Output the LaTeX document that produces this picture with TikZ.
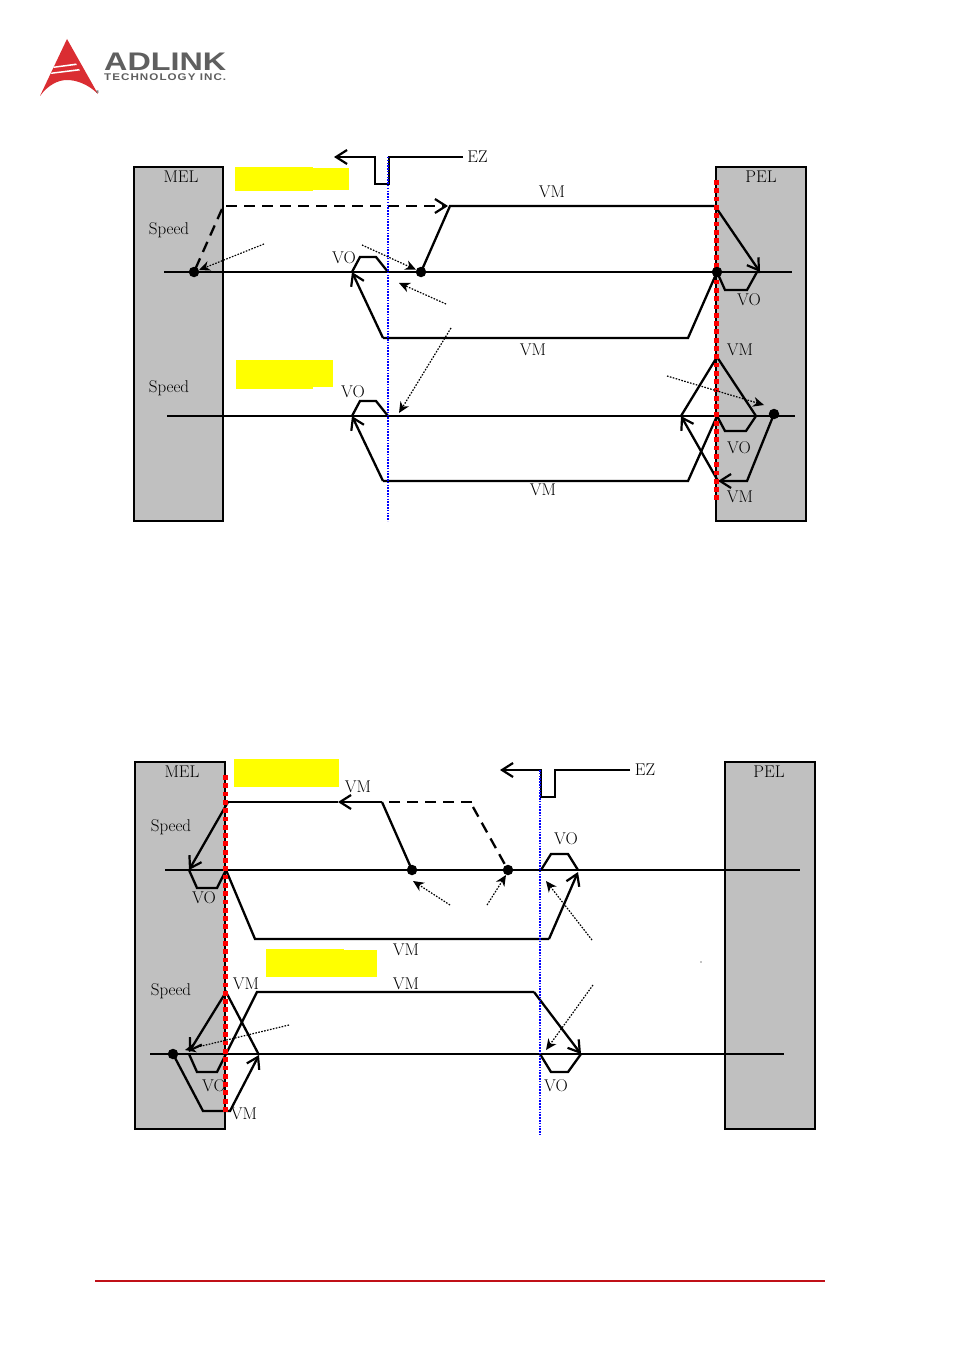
\documentclass[tikz,border=0pt]{standalone}
\usepackage{fontspec}
\newfontfamily\logofont{Liberation Sans}
\usetikzlibrary{arrows.meta}
\definecolor{limitgrey}{RGB}{192,192,192}
\definecolor{logored}{RGB}{218,45,50}
\definecolor{logogrey}{RGB}{95,95,95}
\definecolor{footred}{RGB}{192,16,24}
\definecolor{markyellow}{RGB}{255,255,0}
\definecolor{limitred}{RGB}{255,0,0}
\definecolor{indexblue}{RGB}{0,0,255}
\tikzset{
  x=1pt,y=-1pt,
  limitbox/.style={draw=black,line width=1.5pt,fill=limitgrey},
  marker/.style={fill=markyellow,draw=none},
  axisline/.style={line width=1.05pt},
  trace/.style={line width=2.3pt,line join=miter},
  dashtrace/.style={trace,dash pattern=on 11pt off 7pt},
  openarrow/.style={-{Straight Barb[length=11pt,width=14pt,line width=2.2pt]}},
  note/.style={line width=1.2pt,dash pattern=on 1.6pt off 1.4pt,-{Stealth[length=11pt,width=10pt,inset=3.5pt,line width=0pt]}},
  redline/.style={limitred,line width=5pt,dash pattern=on 4.8pt off 3.5pt},
  blueline/.style={indexblue,line width=1.4pt,dash pattern=on 1.5pt off 1.3pt},
  lab/.style={font=\fontsize{17}{20}\selectfont,inner sep=0pt,text=black},
  stopdot/.style={circle,fill=black,draw=none,minimum size=10.5pt,inner sep=0pt},
}
\begin{document}
\begin{tikzpicture}
\useasboundingbox (0,0) rectangle (954,1351);

% company mark
\fill[logored] (67,39) -- (98,94) .. controls (88,84) and (76,80) .. (67,80)
   .. controls (58,80) and (48,85) .. (40,96) -- cycle;
\fill[white] (54,66.5) -- (76,63.5) -- (76.8,65) -- (53.4,68) -- cycle;
\fill[white] (51.5,72.5) -- (79,69) -- (79.8,70.5) -- (51,74) -- cycle;
\node[inner sep=0pt,anchor=center] (reg) at (97.5,92.5) {\logofont\fontsize{4}{4}\selectfont ®};
\node[inner sep=0pt,anchor=north west,text=logogrey] (brand) at (104,52.5)
  {\resizebox{122pt}{17.5pt}{\logofont\bfseries ADLINK}};
\node[inner sep=0pt,anchor=north west,text=logogrey] (brandsub) at (104,73.5)
  {\resizebox{122pt}{6.8pt}{\logofont\addfontfeatures{LetterSpace=9}\bfseries TECHNOLOGY INC.}};

% ---------- upper chart ----------
\draw[limitbox] (134,167) rectangle (223,521);
\draw[limitbox] (716,167) rectangle (806,521);
\fill[marker] (235,167) rectangle (313,191);
\fill[marker] (235,168) rectangle (349,190.5);
\fill[marker] (236,360) rectangle (313,389);
\fill[marker] (236,360) rectangle (333,387);

\node[lab] (melA) at (181,177) {MEL};
\node[lab] (pelA) at (761,177) {PEL};
\node[lab] (speedA) at (169,230) {Speed};
\node[lab] (speedB) at (169,388) {Speed};
\node[lab] (ezA) at (477.5,157) {EZ};
\node[lab] (vmA) at (552,192) {VM};
\node[lab] (voA) at (344,258) {VO};
\node[lab] (voB) at (749,300) {VO};
\node[lab] (vmB) at (533,350) {VM};
\node[lab] (vmC) at (740,350) {VM};
\node[lab] (voC) at (353,392) {VO};
\node[lab] (voD) at (739,448) {VO};
\node[lab] (vmD) at (543,490) {VM};
\node[lab] (vmE) at (740,497) {VM};

\draw[axisline] (164,272) -- (792,272);
\draw[axisline] (167,416) -- (795,416);

\coordinate (limPoint) at (717,272);
\node[stopdot] (homeA) at (194,272) {};
\node[stopdot] (slowA) at (421,272) {};
\node[stopdot] (endA) at (774,414) {};

% index pulse
\draw[trace,openarrow] (463,157) -- (389,157) -- (389,184) -- (375,184) -- (375,157) -- (334,157);
% first pass
\draw[dashtrace] (222,209) -- (homeA.center);
\draw[dashtrace,openarrow] (226,206) -- (448,206);
\draw[trace] (slowA.center) -- (450,206) -- (715,206);
\draw[trace,openarrow] (715,206) -- (760,272);
\draw[trace] (760,272) -- (757,272) -- (747,290) -- (725,290) -- (limPoint);
\draw[trace] (limPoint) -- (688,338) -- (383,338);
\draw[trace,openarrow] (383,338) -- (352,272);
\draw[trace] (352,272) -- (360,257) -- (376,257) -- (388,272);
% second pass
\draw[trace,openarrow] (endA.center) -- (747,481) -- (718,481);
\draw[trace,openarrow] (718,481) -- (681,416);
\draw[trace] (681,416) -- (717,357) -- (756,416) -- (746,431) -- (725,431) -- (717,416) -- (688,481) -- (383,481);
\draw[trace,openarrow] (383,481) -- (352,416);
\draw[trace] (352,416) -- (360,401) -- (376,401) -- (388,416);

\draw[blueline] (388,157) -- (388,521);
\draw[redline] (716,180) -- (716,503);
\node[stopdot] (limA) at (limPoint) {};

\draw[note] (264,244) -- (homeA);
\draw[note] (362,245) -- (slowA);
\draw[note] (446,304) -- (399,283);
\draw[note] (451,328) -- (399,413);
\draw[note] (667,376) -- (764,405);

% ---------- lower chart ----------
\draw[limitbox] (135,762) rectangle (225,1129);
\draw[limitbox] (725,762) rectangle (815,1129);
\fill[marker] (234,759) rectangle (339,787);
\fill[marker] (266,949) rectangle (344,977);
\fill[marker] (266,950) rectangle (377,977);

\node[lab] (melB) at (182,772) {MEL};
\node[lab] (pelB) at (769,772) {PEL};
\node[lab] (speedC) at (171,827) {Speed};
\node[lab] (speedD) at (171,991) {Speed};
\node[lab] (ezB) at (645,770) {EZ};
\node[lab] (vmF) at (358,787) {VM};
\node[lab] (voE) at (204,898) {VO};
\node[lab] (voF) at (566,839) {VO};
\node[lab] (vmG) at (406,950) {VM};
\node[lab] (vmH) at (246,984) {VM};
\node[lab] (vmI) at (406,984) {VM};
\node[lab] (voG) at (214,1086) {VO};
\node[lab] (vmJ) at (244,1114) {VM};
\node[lab] (voH) at (556,1086) {VO};

\draw[axisline] (165,870) -- (800,870);
\draw[axisline] (150,1054) -- (784,1054);

\node[stopdot] (slowB) at (412,870) {};
\node[stopdot] (homeB) at (508,870) {};
\node[stopdot] (endB) at (173,1054) {};

% index pulse
\draw[trace,openarrow] (630,770) -- (555,770) -- (555,797) -- (541,797) -- (541,770) -- (500,770);
% first pass
\draw[dashtrace] (472,802) -- (385,802);
\draw[dashtrace] (473,807) -- (homeB.center);
\draw[trace] (slowB.center) -- (382,802);
\draw[trace,openarrow] (382,802) -- (338,802);
\draw[trace] (338,802) -- (228,802);
\draw[trace,openarrow] (228,802) -- (189,870);
\draw[trace] (189,870) -- (197,888) -- (217,888) -- (226,870) -- (255,939) -- (549,939);
\draw[trace,openarrow] (549,939) -- (578,872);
\draw[trace] (578,870) -- (568,854) -- (551,854) -- (541,870);
% second pass
\draw[trace,openarrow] (endB.center) -- (203,1111) -- (230,1111) -- (259,1055);
\draw[trace,openarrow] (259,1055) -- (226,992) -- (189,1052);
\draw[trace] (189,1054) -- (197,1072) -- (217,1072) -- (226,1054) -- (257,992) -- (534,992);
\draw[trace,openarrow] (534,992) -- (581,1054);
\draw[trace] (581,1054) -- (568,1072) -- (551,1072) -- (540,1054);

\draw[blueline] (540,770) -- (540,1135);
\draw[redline] (225,775) -- (225,1112);

\draw[note] (450,905) -- (413,881);
\draw[note] (487,905) -- (506,875);
\draw[note] (592,940) -- (546,881);
\draw[note] (593,985) -- (546,1050);
\draw[note] (289,1025) -- (185,1050);
\fill (701,962) circle (0.6pt);

% page rule
\draw[footred,line width=1.8pt] (95,1281) -- (825,1281);
\end{tikzpicture}
\end{document}
